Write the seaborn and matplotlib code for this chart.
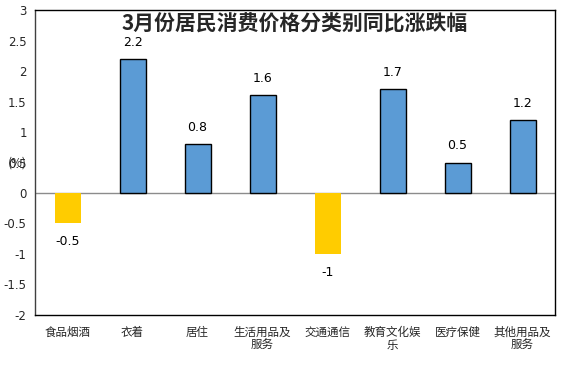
import matplotlib
matplotlib.use("Agg")
import matplotlib.pyplot as plt
import seaborn as sns
import pandas as pd

categories = ["食品烟酒", "衣着", "居住", "生活用品及\n服务", "交通通信", "教育文化娱\n乐", "医疗保健", "其他用品及\n服务"]
values = [-0.5, 2.2, 0.8, 1.6, -1.0, 1.7, 0.5, 1.2]
value_labels = ["-0.5", "2.2", "0.8", "1.6", "-1", "1.7", "0.5", "1.2"]
yticks = [-2, -1.5, -1, -0.5, 0, 0.5, 1, 1.5, 2, 2.5, 3]
ytick_labels = ["-2", "-1.5", "-1", "-0.5", "0", "0.5", "1", "1.5", "2", "2.5", "3"]
title = "3月份居民消费价格分类别同比涨跌幅"

sns.set_theme(style="white")
plt.rcParams['font.family'] = ['Noto Sans CJK SC', 'DejaVu Sans']

df = pd.DataFrame({"cat": categories, "val": values,
                   "sign": ["neg" if v < 0 else "pos" for v in values]})

fig = plt.figure(figsize=(5.74, 3.74), dpi=100)
ax = fig.add_axes([0.061, 0.158, 0.906, 0.815])
sns.barplot(data=df, x="cat", y="val", hue="sign", order=categories,
            palette={"pos": "#5B9BD5", "neg": "#FFCC00"}, width=0.4,
            dodge=False, legend=False, ax=ax, saturation=1)

for patch in ax.patches:
    h = patch.get_height()
    if h > 0:
        patch.set_edgecolor("black")
        patch.set_linewidth(1.0)
    else:
        patch.set_edgecolor("none")

for i, (v, lab) in enumerate(zip(values, value_labels)):
    off = 12 if v > 0 else -13
    ax.annotate(lab, (i, v), xytext=(0, off), textcoords="offset points",
                ha="center", va="center", fontsize=9, color="black",
                family=['DejaVu Sans'])

ax.axhline(0, color="#8c8c8c", linewidth=1, zorder=0.5)
ax.set_ylim(-2, 3)
ax.set_xlim(-0.5, len(categories) - 0.5)
ax.set_yticks(yticks)
ax.set_yticklabels(ytick_labels, fontsize=8.5, family=['DejaVu Sans'])
ax.tick_params(axis="both", length=0, pad=6)
ax.tick_params(axis="x", labelsize=8.3, pad=8)
for lbl in ax.get_xticklabels():
    lbl.set_linespacing(0.95)
ax.set_xlabel("")
ax.set_ylabel("")
for s in ["top", "right", "bottom"]:
    ax.spines[s].set_color("black")
    ax.spines[s].set_linewidth(1.0)
ax.spines["left"].set_color("#404040")
ax.spines["left"].set_linewidth(1.0)

fig.text(0.014, 0.564, "(%)", fontsize=8.5, ha="left", va="center")
ax.text(0.5, 0.955, title, transform=ax.transAxes, ha="center", va="center",
        fontsize=15, fontweight="bold")

fig.savefig("out.png", dpi=100)
